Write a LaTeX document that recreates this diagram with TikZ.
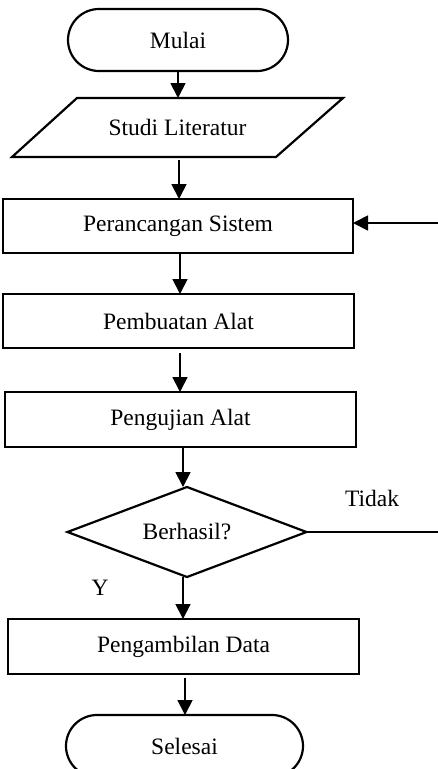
\documentclass[tikz,border=0pt]{standalone}
\usepackage{fontspec}
\setmainfont{Liberation Serif}
\usetikzlibrary{shapes.misc,shapes.geometric,arrows.meta}
\begin{document}
\begin{tikzpicture}[x=1pt,y=-1pt,
  every node/.style={font=\fontsize{23.5}{28}\selectfont, inner sep=0pt, outer sep=0pt},
  shape line/.style={line width=2.2pt},
  term/.style={shape line, draw, rounded rectangle, minimum width=237pt, minimum height=62pt},
  procbox/.style={shape line, draw, rectangle, minimum width=351pt, minimum height=55pt},
  decision/.style={shape line, draw, diamond, aspect=2.65, minimum width=239pt, minimum height=90pt},
  arr/.style={line width=1.8pt, -{Triangle[width=15pt,length=15pt]}},
  conn/.style={line width=1.8pt}]
\useasboundingbox (0,0) rectangle (438,769);
\clip (0,0) rectangle (438,769);
% nodes
\node[term, minimum width=220pt] (mulai) at (178,40) {Mulai};
\node (studi) at (177.5,127.5) {Studi Literatur};
\draw[shape line] (77,98) coordinate (studiT) -- (343,98) -- (276,157) -- (12,157) coordinate (studiB) -- cycle;
\coordinate (studiBot) at (179,160);
\node[procbox, minimum width=350pt, minimum height=54pt] (peran) at (178,226) {Perancangan Sistem};
\node[procbox, minimum height=54pt] (buat) at (178.5,321) {Pembuatan Alat};
\node[procbox] (uji) at (180.5,419.5) {Pengujian Alat};
\node[decision] (cek) at (187,532) {};
\node at (187,532) {Berhasil?};
\node[procbox] (ambil) at (183.5,646.5) {Pengambilan Data};
\node[term] (selesai) at (184.5,746) {Selesai};
% labels
\node (tidak) at (372,498) {Tidak};
\node (ya) at (100,588) {Y};
% right edge coordinates
\coordinate (tR) at (438,532);
\coordinate (pR) at (438,223);
% connectors
\draw[arr] (mulai.south) -- (mulai.south |- studiT);
\draw[arr] (studiBot) -- (studiBot |- peran.north);
\draw[arr] ([xshift=2pt]peran.south) -- ([xshift=2pt]peran.south |- buat.north);
\draw[arr] ([xshift=1.5pt,yshift=-5pt]buat.south) -- ([xshift=1.5pt]buat.south |- uji.north);
\draw[arr] ([xshift=2.5pt]uji.south) -- ([xshift=2.5pt]uji.south |- cek.north);
\draw[arr] ([xshift=-4pt]cek.south) -- ([xshift=-4pt]cek.south |- ambil.north);
\draw[arr] ([xshift=1.5pt,yshift=-4pt]ambil.south) -- ([xshift=1.5pt]ambil.south |- selesai.north);
\draw[conn] (cek.east) -- (tR);
\draw[arr] (pR) -- (pR -| peran.east);
\end{tikzpicture}
\end{document}
